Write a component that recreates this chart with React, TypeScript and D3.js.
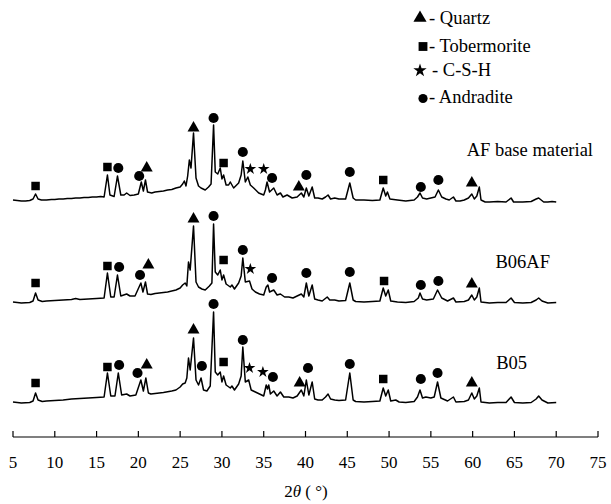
import * as d3 from "d3";

// XRD patterns, [2θ, intensity (counts)]
const afPattern: [number, number][] = [
  [5.0, 370], [5.5, 365], [6.0, 360], [6.5, 360], [7.0, 365], [7.4, 380], [7.7, 430], [8.0, 380],
  [8.4, 370], [9.0, 370], [9.6, 375], [10.0, 375], [10.5, 380], [11.0, 380], [11.5, 385], [12.0, 385],
  [12.5, 390], [13.0, 390], [13.5, 395], [14.0, 395], [14.5, 400], [15.0, 400], [15.5, 405], [15.9, 400],
  [16.3, 620], [16.6, 420], [17.1, 405], [17.5, 610], [17.9, 420], [18.3, 420], [18.6, 440], [19.0, 415],
  [19.5, 420], [20.0, 430], [20.35, 550], [20.6, 460], [20.85, 570], [21.1, 450], [21.6, 440], [22.0, 450],
  [22.5, 455], [23.0, 460], [23.5, 470], [24.0, 475], [24.5, 490], [25.0, 500], [25.3, 530], [25.5, 560],
  [25.7, 510], [25.9, 610], [26.1, 770], [26.3, 690], [26.6, 1040], [26.9, 590], [27.2, 510], [27.5, 490],
  [28.0, 470], [28.4, 500], [28.7, 530], [29.0, 1120], [29.2, 650], [29.5, 630], [29.8, 690], [30.0, 580],
  [30.2, 620], [30.5, 520], [30.8, 520], [31.0, 550], [31.4, 490], [32.0, 540], [32.3, 620], [32.5, 760],
  [32.8, 550], [33.1, 600], [33.4, 520], [33.8, 490], [34.4, 440], [35.0, 420], [35.2, 470], [35.4, 550],
  [35.7, 450], [36.2, 490], [36.6, 420], [37.0, 440], [37.3, 400], [37.8, 420], [38.4, 390], [39.0, 400],
  [39.5, 440], [39.8, 400], [40.1, 490], [40.4, 410], [40.8, 500], [41.1, 390], [41.5, 390], [42.0, 380],
  [42.4, 400], [42.7, 420], [43.0, 380], [43.5, 390], [44.0, 380], [44.8, 380], [45.3, 540], [45.7, 390],
  [46.0, 370], [47.0, 370], [48.0, 365], [48.9, 370], [49.3, 490], [49.6, 410], [49.8, 450], [50.1, 380],
  [51.0, 370], [52.0, 360], [53.0, 370], [53.4, 400], [53.7, 440], [54.0, 390], [54.5, 380], [55.5, 400],
  [55.9, 470], [56.3, 400], [56.8, 380], [57.2, 370], [57.7, 400], [58.0, 360], [58.5, 360], [59.0, 370],
  [59.5, 390], [59.9, 430], [60.2, 380], [60.5, 410], [60.8, 500], [61.0, 370], [61.5, 350], [62.0, 350],
  [63.0, 355], [64.0, 350], [64.6, 390], [64.9, 350], [65.5, 350], [66.0, 350], [67.0, 355], [67.6, 380],
  [67.9, 390], [68.2, 370], [68.5, 350], [69.0, 350], [69.5, 355], [70.0, 350],
];

const b06afPattern: [number, number][] = [
  [5.0, 350], [6.0, 340], [7.0, 345], [7.4, 360], [7.7, 440], [8.0, 370], [8.5, 355], [9.0, 360],
  [10.0, 365], [11.0, 370], [12.0, 375], [12.5, 385], [13.0, 375], [14.0, 380], [15.0, 385], [15.9, 390],
  [16.3, 640], [16.7, 400], [17.1, 400], [17.5, 620], [17.9, 410], [18.6, 430], [19.0, 410], [19.6, 410],
  [20.3, 540], [20.55, 450], [20.85, 550], [21.1, 430], [21.5, 425], [22.0, 435], [23.0, 445], [23.5, 450],
  [24.0, 460], [24.5, 470], [25.0, 490], [25.3, 520], [25.6, 540], [25.8, 510], [26.0, 750], [26.2, 670],
  [26.6, 1110], [26.9, 550], [27.2, 500], [27.6, 480], [28.0, 470], [28.5, 510], [28.8, 540], [29.0, 1130],
  [29.2, 650], [29.5, 620], [29.8, 670], [30.0, 570], [30.2, 620], [30.5, 530], [31.0, 500], [31.2, 520],
  [31.5, 480], [32.0, 540], [32.3, 610], [32.5, 790], [32.8, 550], [33.3, 560], [33.6, 480], [34.0, 450],
  [34.5, 430], [35.0, 420], [35.3, 500], [35.5, 520], [35.7, 450], [36.2, 470], [36.6, 420], [37.0, 430],
  [37.5, 400], [38.0, 400], [38.5, 390], [39.0, 410], [39.5, 430], [39.8, 400], [40.1, 540], [40.4, 410],
  [40.8, 520], [41.1, 380], [41.5, 370], [42.0, 360], [42.6, 400], [42.9, 370], [43.5, 370], [44.0, 360],
  [44.8, 365], [45.3, 540], [45.7, 370], [46.0, 355], [47.0, 350], [48.0, 355], [48.9, 360], [49.3, 490],
  [49.6, 410], [49.9, 470], [50.2, 360], [51.0, 350], [52.0, 345], [53.0, 355], [53.5, 390], [53.7, 440],
  [54.0, 380], [54.5, 370], [55.3, 380], [55.8, 470], [56.3, 390], [57.0, 360], [57.7, 390], [58.0, 350],
  [59.0, 355], [59.5, 370], [59.9, 420], [60.2, 370], [60.5, 400], [60.8, 490], [61.0, 350], [62.0, 340],
  [63.0, 345], [64.0, 345], [64.6, 390], [65.0, 345], [66.0, 340], [67.0, 345], [67.6, 370], [67.9, 390],
  [68.3, 360], [69.0, 340], [70.0, 345],
];

const b05Pattern: [number, number][] = [
  [5.0, 350], [6.0, 340], [7.0, 345], [7.4, 360], [7.7, 440], [8.0, 370], [8.5, 355], [9.0, 360],
  [10.0, 365], [11.0, 370], [12.0, 380], [13.0, 385], [14.0, 390], [15.0, 395], [15.9, 400], [16.3, 640],
  [16.7, 410], [17.2, 410], [17.6, 640], [18.0, 420], [18.6, 430], [19.0, 410], [19.7, 420], [20.3, 570],
  [20.6, 460], [20.9, 590], [21.2, 440], [21.5, 430], [22.0, 435], [23.0, 445], [24.0, 460], [24.5, 470],
  [25.0, 500], [25.3, 530], [25.6, 540], [25.8, 590], [26.0, 790], [26.2, 670], [26.6, 990], [26.9, 570],
  [27.2, 520], [27.5, 590], [27.8, 470], [28.2, 460], [28.6, 510], [29.0, 1250], [29.2, 650], [29.5, 620],
  [29.8, 650], [30.0, 550], [30.2, 610], [30.5, 520], [31.0, 490], [31.2, 510], [31.5, 470], [32.0, 530],
  [32.3, 610], [32.5, 900], [32.8, 550], [33.2, 570], [33.5, 470], [34.0, 450], [34.5, 430], [35.0, 410],
  [35.3, 520], [35.45, 480], [35.6, 520], [35.8, 430], [36.2, 460], [36.6, 410], [37.0, 450], [37.4, 400],
  [38.0, 400], [38.5, 390], [39.0, 410], [39.5, 470], [39.8, 410], [40.1, 570], [40.4, 420], [40.8, 550],
  [41.1, 380], [41.5, 370], [42.0, 370], [42.4, 400], [42.7, 430], [43.0, 380], [43.5, 370], [44.0, 365],
  [44.8, 370], [45.3, 640], [45.7, 370], [46.0, 355], [47.0, 350], [48.0, 355], [48.9, 360], [49.3, 490],
  [49.6, 410], [49.9, 470], [50.2, 360], [50.8, 370], [51.2, 350], [52.0, 345], [53.0, 355], [53.4, 400],
  [53.7, 470], [54.0, 390], [54.4, 400], [55.0, 390], [55.4, 400], [55.8, 550], [56.2, 390], [57.0, 360],
  [57.7, 400], [58.0, 350], [59.0, 355], [59.5, 370], [59.9, 440], [60.2, 380], [60.5, 410], [60.8, 490],
  [61.0, 350], [62.0, 340], [63.0, 345], [64.0, 345], [64.6, 400], [65.0, 345], [66.0, 340], [67.0, 345],
  [67.6, 380], [67.9, 410], [68.3, 370], [69.0, 340], [70.0, 345],
];

// phase markers: [phase, 2θ, intensity]
const afMarkers: [string, number, number][] = [
  ["Tobermorite", 7.7, 510], ["Tobermorite", 16.3, 700], ["Andradite", 17.6, 690], ["Andradite", 20.1, 610],
  ["Quartz", 21.0, 690], ["Quartz", 26.6, 1090], ["Andradite", 29.0, 1190], ["Tobermorite", 30.2, 740],
  ["Andradite", 32.5, 850], ["C-S-H", 33.4, 680], ["C-S-H", 35.0, 680], ["Andradite", 36.0, 590],
  ["Quartz", 39.2, 500], ["Andradite", 40.1, 620], ["Andradite", 45.3, 650], ["Tobermorite", 49.3, 570],
  ["Andradite", 53.8, 500], ["Andradite", 55.9, 570], ["Quartz", 59.9, 540],
];

const b06afMarkers: [string, number, number][] = [
  ["Tobermorite", 7.7, 540], ["Tobermorite", 16.3, 710], ["Andradite", 17.7, 700], ["Andradite", 20.2, 620],
  ["Quartz", 21.2, 720], ["Quartz", 26.6, 1180], ["Andradite", 29.0, 1210], ["Tobermorite", 30.2, 770],
  ["Andradite", 32.5, 870], ["C-S-H", 33.4, 680], ["Andradite", 36.0, 590], ["Andradite", 40.1, 640],
  ["Andradite", 45.3, 650], ["Tobermorite", 49.4, 560], ["Andradite", 53.8, 520], ["Andradite", 55.9, 560],
  ["Quartz", 59.9, 530],
];

const b05Markers: [string, number, number][] = [
  ["Tobermorite", 7.7, 540], ["Tobermorite", 16.3, 700], ["Andradite", 17.7, 720], ["Andradite", 19.9, 640],
  ["Quartz", 21.0, 720], ["Quartz", 26.6, 1070], ["Andradite", 27.6, 710], ["Andradite", 29.0, 1330],
  ["Tobermorite", 30.2, 750], ["Andradite", 32.5, 970], ["C-S-H", 33.3, 690], ["C-S-H", 34.9, 650],
  ["Andradite", 36.1, 600], ["Quartz", 39.3, 540], ["Andradite", 40.3, 690], ["Andradite", 45.3, 730],
  ["Tobermorite", 49.3, 580], ["Andradite", 53.8, 580], ["Andradite", 55.8, 640], ["Quartz", 59.9, 540],
];

const sampleNames = ["AF base material", "B06AF", "B05"];
const sampleOffsets = [2000, 1000, 0];
const phaseNames = ["Quartz", "Tobermorite", "C-S-H", "Andradite"];
const xTicks = [5, 10, 15, 20, 25, 30, 35, 40, 45, 50, 55, 60, 65, 70, 75];

const W = 611;
const H = 504;
const FONT = "Liberation Serif";

const x = d3.scaleLinear().domain([5, 75]).range([13, 598]);
const y = d3.scaleLinear().domain([0, 4000]).range([437, 37]);

const symbolOf: Record<string, d3.SymbolType> = {
  Quartz: d3.symbolTriangle,
  Tobermorite: d3.symbolSquare,
  "C-S-H": d3.symbolStar,
  Andradite: d3.symbolCircle,
};
const plotSize: Record<string, number> = { Quartz: 62, Tobermorite: 72, "C-S-H": 42, Andradite: 80 };
const legendSize: Record<string, number> = { Quartz: 75, Tobermorite: 78, "C-S-H": 55, Andradite: 66 };

export default function App() {
  const patterns = [afPattern, b06afPattern, b05Pattern];
  const markers = [afMarkers, b06afMarkers, b05Markers];
  const labelPos = [
    { x: 593, y: 156 },
    { x: 550, y: 268 },
    { x: 527, y: 369 },
  ];
  const legendY = [18, 46.5, 70.5, 98.5];
  const legendBase = [24, 52, 76, 103];

  return (
    <svg width={W} height={H} style={{ position: "absolute", left: 0, top: 0, background: "#fff" }}>
      {patterns.map((p, i) => {
        const line = d3
          .line<[number, number]>()
          .x((d) => x(d[0]))
          .y((d) => y(d[1] + sampleOffsets[i]));
        return (
          <path key={sampleNames[i]} d={line(p) ?? ""} fill="none" stroke="#000" strokeWidth={1.5} strokeLinejoin="round" />
        );
      })}

      {markers.map((ms, i) =>
        ms.map((m, j) => (
          <path
            key={`${i}-${j}`}
            d={d3.symbol(symbolOf[m[0]], plotSize[m[0]])() ?? ""}
            transform={`translate(${x(m[1])},${y(m[2] + sampleOffsets[i])})`}
            fill="#000"
          />
        ))
      )}

      {sampleNames.map((n, i) => (
        <text key={n} x={labelPos[i].x} y={labelPos[i].y} textAnchor="end" fontFamily={FONT} fontSize={18.5} fill="#000">
          {n}
        </text>
      ))}

      {phaseNames.map((n, i) => (
        <g key={n}>
          <path
            d={d3.symbol(symbolOf[n], legendSize[n])() ?? ""}
            transform={`translate(${i === 0 || i === 2 ? 420 : 423},${legendY[i]})`}
            fill="#000"
          />
          <text x={i === 2 ? 432 : 429} y={legendBase[i]} fontFamily={FONT} fontSize={18.5} fill="#000">
            {`- ${n}`}
          </text>
        </g>
      ))}

      <line x1={x(5)} x2={x(75)} y1={437} y2={437} stroke="#000" strokeWidth={1.2} />
      {xTicks.map((t) => (
        <g key={t}>
          <line x1={x(t)} x2={x(t)} y1={437} y2={431} stroke="#000" strokeWidth={1.2} />
          <text x={x(t)} y={468} textAnchor="middle" fontFamily={FONT} fontSize={17} fill="#000">
            {t}
          </text>
        </g>
      ))}
      <text x={306} y={497} textAnchor="middle" fontFamily={FONT} fontSize={17} fill="#000">
        2<tspan fontStyle="italic">θ</tspan> ( °)
      </text>
    </svg>
  );
}
